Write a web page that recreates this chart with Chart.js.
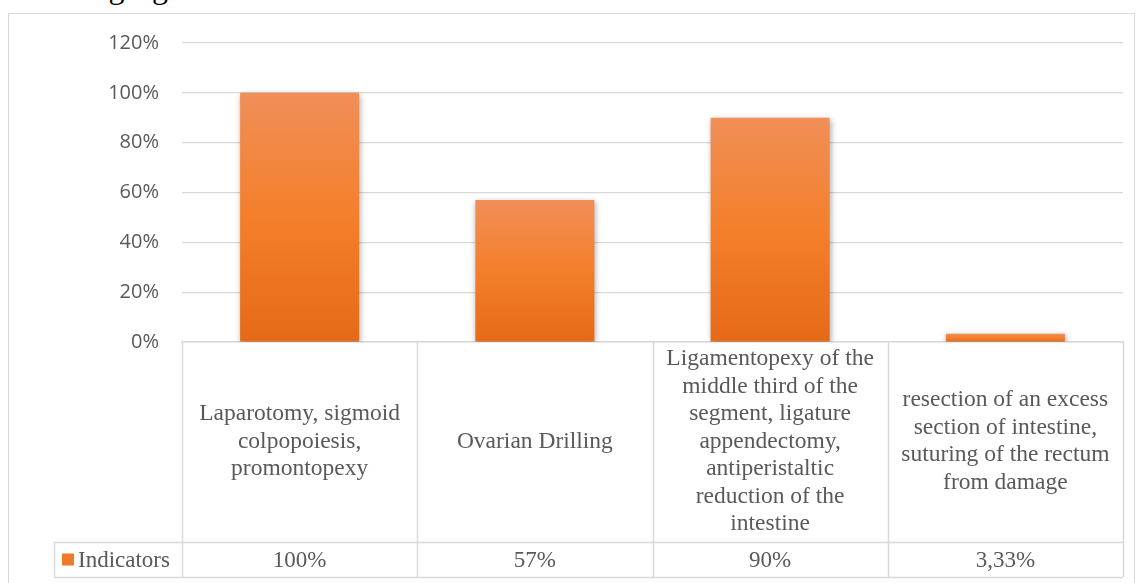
<!DOCTYPE html>
<html>
<head>
<meta charset="utf-8">
<script src="https://cdn.jsdelivr.net/npm/chart.js@4.4.1/dist/chart.umd.min.js"></script>
<style>
    html, body { margin: 0; padding: 0; background: #fff; overflow: hidden; }
    #wrap { position: relative; width: 1137px; height: 583px; overflow: hidden; }
    #caption {
        position: absolute; left: 0px; top: -33px;
        font-family: "Liberation Serif", "Times New Roman", serif;
        font-size: 32px; line-height: 40px;
        color: #000; white-space: nowrap;
    }
    #frame {
        position: absolute; left: 8px; top: 13px; width: 1127px; height: 620px;
        border: 1px solid #d9d9d9; box-sizing: border-box;
    }
    #chartBox { position: absolute; left: 0; top: 0; width: 1137px; height: 583px; }
</style>
</head>
<body>
<div id="wrap">
    <div id="caption">following figure:</div>
    <div id="frame"></div>
    <div id="chartBox"><canvas id="chart"></canvas></div>
</div>
<script>
(function() {
    'use strict';

    // ===== DATA =====
    const categories = [
        ['Laparotomy, sigmoid', 'colpopoiesis,', 'promontopexy'],
        ['Ovarian Drilling'],
        ['Ligamentopexy of the', 'middle third of the', 'segment, ligature', 'appendectomy,', 'antiperistaltic', 'reduction of the', 'intestine'],
        ['resection of an excess', 'section of intestine,', 'suturing of the rectum', 'from damage']
    ];
    const seriesName = 'Indicators';
    const indicatorValues = [1.00, 0.57, 0.90, 0.0333];

    const GRID = '#d9d9d9';
    const TEXT = '#595959';
    const SERIF = '"Liberation Serif", "Times New Roman", serif';

    function formatPct(v) {
        const n = Math.round(v * 10000) / 100;
        return String(n).replace('.', ',') + '%';
    }

    // orange gradient per bar, light on top, darker at the base
    function barFill(context) {
        const chart = context.chart;
        const y = chart.scales.y;
        if (!y || context.parsed === undefined) return '#f47f2a';
        const top = y.getPixelForValue(context.parsed.y);
        const bottom = y.getPixelForValue(0);
        if (!isFinite(top) || !isFinite(bottom) || bottom - top < 1) return '#f47f2a';
        const g = chart.ctx.createLinearGradient(0, top, 0, bottom);
        g.addColorStop(0, '#f08f58');
        g.addColorStop(0.5, '#f47f2b');
        g.addColorStop(1, '#e56a17');
        return g;
    }

    // ===== PLUGINS =====
    const barShadow = {
        id: 'barShadow',
        beforeDatasetDraw(chart) {
            const ctx = chart.ctx;
            ctx.save();
            ctx.shadowColor = 'rgba(0,0,0,0.35)';
            ctx.shadowBlur = 6;
            ctx.shadowOffsetX = 1;
            ctx.shadowOffsetY = 2;
        },
        afterDatasetDraw(chart) {
            chart.ctx.restore();
        }
    };

    // data table under the chart (Excel style)
    const dataTable = {
        id: 'dataTable',
        afterDraw(chart) {
            const ctx = chart.ctx;
            const area = chart.chartArea;
            const x = chart.scales.x;
            const n = categories.length;
            const rowTop = area.bottom + 200;
            const rowBottom = rowTop + 35;
            const keyLeft = 54;

            ctx.save();
            ctx.strokeStyle = GRID;
            ctx.lineWidth = 1.5;
            ctx.beginPath();
            for (let i = 0; i <= n; i++) {
                const px = Math.round(x.getPixelForValue(i - 0.5)) + 0.5;
                ctx.moveTo(px, area.bottom);
                ctx.lineTo(px, rowBottom);
            }
            ctx.moveTo(keyLeft + 0.5, rowTop);
            ctx.lineTo(keyLeft + 0.5, rowBottom);
            ctx.moveTo(keyLeft, rowTop + 0.5);
            ctx.lineTo(area.right, rowTop + 0.5);
            ctx.moveTo(keyLeft, rowBottom + 0.5);
            ctx.lineTo(area.right, rowBottom + 0.5);
            ctx.stroke();

            const midY = (rowTop + rowBottom) / 2;
            // legend key
            ctx.fillStyle = '#f07a2a';
            ctx.fillRect(62, midY - 6, 12, 12);

            ctx.fillStyle = TEXT;
            ctx.font = '23px ' + SERIF;
            ctx.textBaseline = 'middle';
            ctx.textAlign = 'left';
            ctx.fillText(seriesName, 78, midY + 1);

            ctx.textAlign = 'center';
            indicatorValues.forEach((v, i) => {
                ctx.fillText(formatPct(v), x.getPixelForValue(i), midY + 1);
            });
            ctx.restore();
        }
    };

    // ===== CHART =====
    const ctx = document.getElementById('chart').getContext('2d');
    new Chart(ctx, {
        type: 'bar',
        data: {
            labels: categories,
            datasets: [{
                label: seriesName,
                data: indicatorValues,
                backgroundColor: barFill,
                borderWidth: 0,
                barPercentage: 0.506,
                categoryPercentage: 1
            }]
        },
        options: {
            responsive: true,
            maintainAspectRatio: false,
            animation: false,
            layout: { padding: { top: 43, right: 14, bottom: 0, left: 0 } },
            plugins: {
                legend: { display: false },
                tooltip: { enabled: false }
            },
            scales: {
                y: {
                    min: 0,
                    max: 1.2,
                    afterFit(scale) { scale.width = 182; },
                    border: { display: false },
                    grid: { color: GRID, lineWidth: 1.2, drawTicks: false },
                    ticks: {
                        stepSize: 0.2,
                        padding: 23,
                        color: TEXT,
                        font: { family: '"Open Sans", Lato, sans-serif', size: 20 },
                        callback: function(value) { return Math.round(value * 100) + '%'; }
                    }
                },
                x: {
                    offset: true,
                    afterFit(scale) { scale.height = 241; },
                    border: { display: true, color: GRID, width: 1.5 },
                    grid: { display: false, drawTicks: false },
                    ticks: {
                        padding: 17,
                        color: TEXT,
                        maxRotation: 0,
                        autoSkip: false,
                        crossAlign: 'center',
                        font: { family: SERIF, size: 23.5, lineHeight: '27.5px' }
                    }
                }
            }
        },
        plugins: [barShadow, dataTable]
    });
})();
</script>
</body>
</html>
